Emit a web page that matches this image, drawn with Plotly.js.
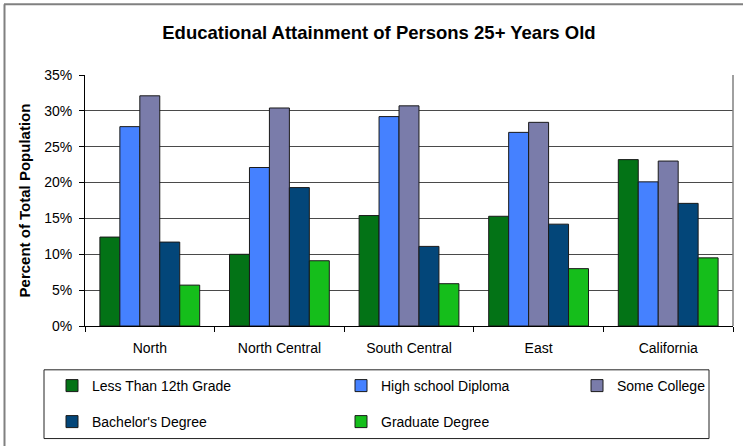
<!DOCTYPE html>
<html>
<head>
<meta charset="utf-8">
<script src="https://cdn.plot.ly/plotly-3.0.1.min.js"></script>
<style>html,body{margin:0;padding:0;background:#fff;}#chart{width:743px;height:446px;}</style>
</head>
<body>
<div id="chart"></div>
<script>
// ---- data ----
var regions = ["North", "North Central", "South Central", "East", "California"];
var seriesNames = ["Less Than 12th Grade", "High school Diploma", "Some College", "Bachelor's Degree", "Graduate Degree"];
var lessThan12th = [12.4, 10.0, 15.4, 15.3, 23.2];
var highSchool   = [27.8, 22.1, 29.2, 27.0, 20.1];
var someCollege  = [32.1, 30.4, 30.7, 28.4, 23.0];
var bachelors    = [11.7, 19.3, 11.1, 14.2, 17.1];
var graduate     = [5.7, 9.1, 5.9, 8.0, 9.5];
var yTicks = [0, 5, 10, 15, 20, 25, 30, 35];

// ---- styling ----
var colors = ["#037316", "#4581FF", "#7A7CAA", "#034679", "#15BE1B"];
var FONT = "'Liberation Sans', Arial, sans-serif";
var values = [lessThan12th, highSchool, someCollege, bachelors, graduate];
var legendIds = ["legend", "legend2", "legend3", "legend4", "legend5"];

// plot area in pixels
var L = 85, R = 733, T = 75, B = 327, W = 743, H = 446;
function px(x) { return (x - L) / (R - L); }
function py(y) { return (B - y) / (B - T); }

var traces = seriesNames.map(function (name, i) {
  return {
    type: "bar",
    name: name,
    x: regions,
    y: values[i],
    legend: legendIds[i],
    marker: { color: colors[i], line: { color: "#1a1a1a", width: 1 } },
    hoverinfo: "x+y+name"
  };
});

// legend item positions (left of legend group, center y), pixels
var legPos = [[52, 386], [341, 386], [577, 386], [52, 422], [341, 422]];

var layout = {
  width: W, height: H,
  paper_bgcolor: "#ffffff", plot_bgcolor: "#ffffff",
  font: { family: FONT, size: 14, color: "#000" },
  margin: { l: L, r: W - R, t: T, b: H - B, pad: 0 },
  barmode: "group",
  bargap: 0.23,
  bargroupgap: 0,
  title: {
    text: "Educational Attainment of Persons 25+ Years Old",
    font: { family: FONT, size: 18.5, weight: "bold", color: "#000" },
    xref: "container", x: 0.51, xanchor: "center",
    yref: "container", y: 1 - 33 / H, yanchor: "middle"
  },
  xaxis: {
    type: "category",
    tickson: "boundaries",
    ticks: "outside", ticklen: 5, tickcolor: "#000",
    ticklabelstandoff: 9,
    showline: true, linecolor: "#000", linewidth: 1,
    showgrid: false,
    tickfont: { family: FONT, size: 14, color: "#000" },
    automargin: false
  },
  yaxis: {
    range: [0, 35],
    tickvals: yTicks,
    ticktext: yTicks.map(function (v) { return v + "%"; }),
    ticks: "outside", ticklen: 5, tickcolor: "#000",
    ticklabelstandoff: 4,
    showline: true, linecolor: "#000", linewidth: 1,
    showgrid: true, gridcolor: "#4a4a4a", gridwidth: 1,
    zeroline: false,
    tickfont: { family: FONT, size: 14, color: "#000" },
    title: {
      text: "Percent of Total Population",
      font: { family: FONT, size: 15, weight: "bold", color: "#000" },
      standoff: 9
    },
    automargin: false
  },
  showlegend: true,
  shapes: [
    // plot area right border
    { type: "line", xref: "paper", yref: "paper", x0: 1, x1: 1, y0: 0, y1: py(T), line: { color: "#808080", width: 1.5 } },
    // legend box
    { type: "rect", xref: "paper", yref: "paper", x0: px(44), x1: px(709), y0: py(440), y1: py(371), line: { color: "#222", width: 1 }, fillcolor: "rgba(0,0,0,0)" },
    // outer frame (top & left)
    { type: "line", xref: "paper", yref: "paper", x0: px(4), x1: px(745), y0: py(4), y1: py(4), line: { color: "#808080", width: 2 } },
    { type: "line", xref: "paper", yref: "paper", x0: px(4.5), x1: px(4.5), y0: py(4), y1: py(450), line: { color: "#808080", width: 2 } }
  ]
};

legendIds.forEach(function (id, i) {
  layout[id] = {
    x: px(legPos[i][0]), y: py(legPos[i][1]),
    xanchor: "left", yanchor: "middle",
    xref: "paper", yref: "paper",
    orientation: "v",
    bgcolor: "rgba(0,0,0,0)", borderwidth: 0,
    font: { family: FONT, size: 14, color: "#000" },
    itemclick: false, itemdoubleclick: false
  };
});

Plotly.newPlot("chart", traces, layout, { displayModeBar: false, staticPlot: true });
</script>
</body>
</html>
